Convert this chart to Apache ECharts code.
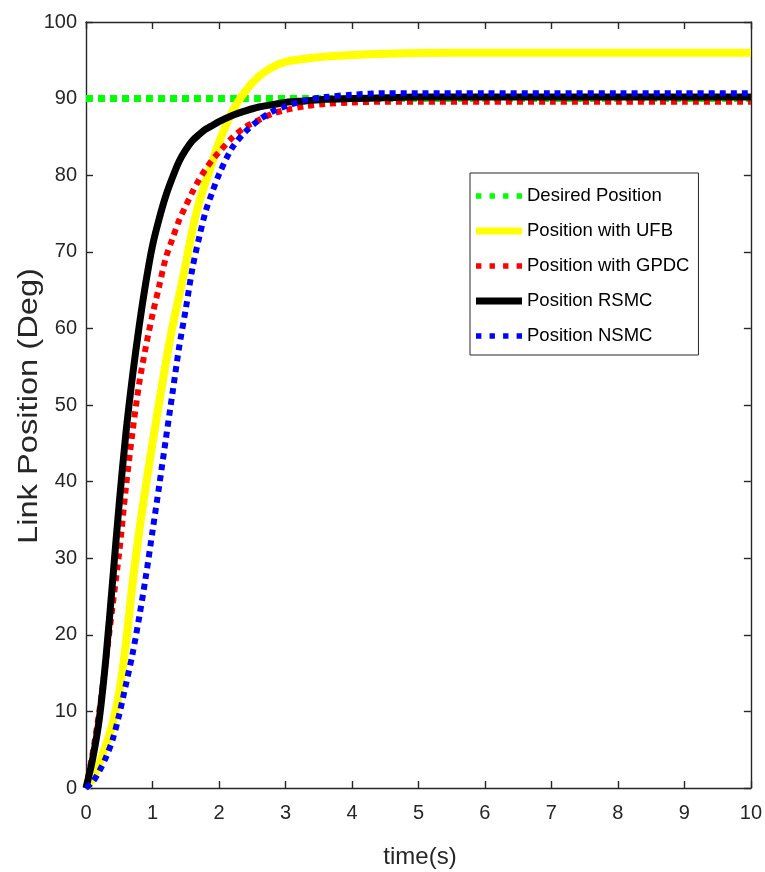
<!DOCTYPE html>
<html>
<head>
<meta charset="utf-8">
<script src="https://cdn.jsdelivr.net/npm/echarts@6/dist/echarts.min.js"></script>
<style>html,body{margin:0;padding:0;background:#fff;}#c{width:765px;height:872px;}</style>
</head>
<body>
<div id="c"></div>
<script>
// time samples (s)
const T = [0,0.1,0.2,0.3,0.4,0.5,0.6,0.7,0.8,0.9,1.0,1.1,1.2,1.3,1.4,1.5,1.6,1.7,1.8,1.9,2.0,2.2,2.4,2.6,2.8,3.0,3.3,3.6,4.0,4.5,5,6,7,8,9,10];
// Desired position
const desired = T.map(() => 90);
// Position with UFB
const ufb = [0,1.3,3.2,5.6,8.4,12.5,18.8,26.7,33.5,39.4,45,50.3,55.5,60.2,64.2,68.4,72.8,76.4,79.1,81.7,84.3,88.3,91.0,92.9,94.1,94.8,95.2,95.5,95.7,95.85,95.95,96.0,96.0,96.0,96.0,96.0];
// Position with GPDC
const gpdc = [0,4.5,10,16.7,23.8,30.8,39.2,46.5,52.8,57.6,61.8,65.5,69.2,71.7,74.1,76.0,77.8,79.4,80.8,82.0,83.0,84.9,86.3,87.2,88.0,88.5,89.0,89.3,89.5,89.6,89.6,89.6,89.6,89.6,89.6,89.6];
// Position RSMC
const rsmc = [0,3.8,9,17,27,37.2,46.3,53.8,60.3,66,70.8,74.3,77.3,79.7,81.8,83.3,84.5,85.3,86.0,86.5,87.0,87.8,88.4,88.9,89.2,89.5,89.7,89.9,90.0,90.1,90.2,90.2,90.2,90.2,90.2,90.2];
// Position NSMC
const nsmc = [0,0.8,2.2,4,6.3,9.6,13.5,17.5,22.3,27.6,33.5,39.4,45.5,51.5,57.5,62.5,67.8,71.8,75.3,77.8,80.1,83.6,85.7,87.2,88.3,89.0,89.8,90.2,90.5,90.7,90.7,90.7,90.7,90.7,90.7,90.7];

const xTicks = [0,1,2,3,4,5,6,7,8,9,10];
const yTicks = [0,10,20,30,40,50,60,70,80,90,100];
const names = ['Desired Position','Position with UFB','Position with GPDC','Position RSMC','Position NSMC'];

const zip = arr => T.map((t,i) => [t, arr[i]]);
const axisColor = '#262626';
const FONT = '"Liberation Sans", Arial, sans-serif';
const DOTTED_ICON = 'path://M0,0h5v5h-5z M12.6,0h5v5h-5z M25.2,0h5v5h-5z M37.8,0h5v5h-5z';
const SOLID_ICON = 'path://M0,0h46v7h-46z';

const chart = echarts.init(document.getElementById('c'), null, {renderer:'canvas'});
const baseX = {
  type:'value', min:xTicks[0], max:xTicks[xTicks.length-1], interval:1,
  axisLine:{show:true, onZero:false, lineStyle:{color:axisColor, width:1.4}},
  axisTick:{show:true, inside:true, length:7, lineStyle:{color:axisColor, width:1.4}},
  splitLine:{show:false}
};
const baseY = {
  type:'value', min:yTicks[0], max:yTicks[yTicks.length-1], interval:10,
  axisLine:{show:true, onZero:false, lineStyle:{color:axisColor, width:1.4}},
  axisTick:{show:true, inside:true, length:7, lineStyle:{color:axisColor, width:1.4}},
  splitLine:{show:false}
};
function line(name, data, color, width, dash, z){
  return {
    name, type:'line', data:zip(data), xAxisIndex:0, yAxisIndex:0,
    showSymbol:false, symbol:'none', smooth:0.3, z:z, animation:false,
    lineStyle:{color, width, type: dash || 'solid', cap:'butt', join:'round'},
    itemStyle:{color}
  };
}
chart.setOption({
  animation:false,
  backgroundColor:'#fff',
  grid:{left:86, right:13, top:22, bottom:84},
  xAxis:[
    Object.assign({}, baseX, {position:'bottom',
      axisLabel:{show:true, margin:15, color:axisColor, fontSize:20, fontFamily:FONT}}),
    Object.assign({}, baseX, {position:'top', axisLabel:{show:false}})
  ],
  yAxis:[
    Object.assign({}, baseY, {position:'left',
      axisLabel:{show:true, margin:9, color:axisColor, fontSize:20, fontFamily:FONT}}),
    Object.assign({}, baseY, {position:'right', axisLabel:{show:false}})
  ],
  legend:{
    orient:'vertical', left:470, top:173, padding:[11,9,7,6],
    itemWidth:46, itemHeight:7, itemGap:11,
    data:[
      {name:names[0], icon:DOTTED_ICON},
      {name:names[1], icon:SOLID_ICON},
      {name:names[2], icon:DOTTED_ICON},
      {name:names[3], icon:SOLID_ICON},
      {name:names[4], icon:DOTTED_ICON}
    ],
    textStyle:{color:'#000', fontSize:18.5, fontFamily:FONT, lineHeight:24},
    backgroundColor:'#fff', borderColor:axisColor, borderWidth:1
  },
  graphic:[
    {type:'text', x:420, y:857, style:{text:'time(s)', font:'24px "Liberation Sans", Arial', fill:axisColor, align:'center', verticalAlign:'middle'}},
    {type:'text', x:30, y:406, rotation:Math.PI/2, scaleX:1.21, scaleY:1,
      style:{text:'Link Position (Deg)', font:'27px "Liberation Sans", Arial', fill:axisColor, align:'center', verticalAlign:'middle'}}
  ],
  series:[
    line(names[0], desired, '#00ff00', 7, [7,5], 2),
    line(names[1], ufb, '#ffff00', 8, null, 3),
    line(names[2], gpdc, '#ff0000', 6, [6,5], 4),
    line(names[3], rsmc, '#000000', 7, null, 5),
    line(names[4], nsmc, '#0000ff', 6, [6,5], 6)
  ]
});
</script>
</body>
</html>
